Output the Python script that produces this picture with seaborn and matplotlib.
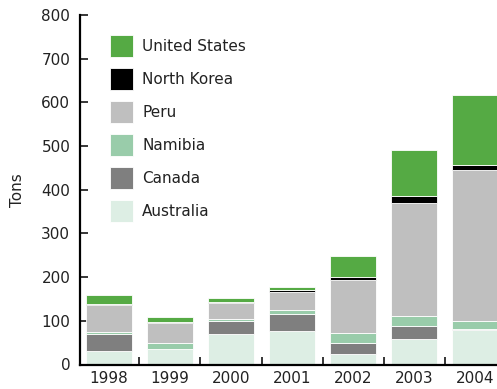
import matplotlib
matplotlib.use("Agg")
import matplotlib.pyplot as plt
import seaborn as sns
import numpy as np
import pandas as pd
from matplotlib.patches import Patch

years = ["1998", "1999", "2000", "2001", "2002", "2003", "2004"]
australia = [30, 35, 70, 77, 24, 58, 79]
canada = [39, 0, 29, 38, 26, 31, 3]
namibia = [6, 14, 5, 10, 23, 22, 18]
peru = [61, 47, 36, 40, 120, 258, 345]
north_korea = [2, 2, 4, 5, 7, 17, 12]
united_states = [22, 10, 9, 8, 49, 106, 159]

series = [
    ("Australia", australia, "#ddeee4"),
    ("Canada", canada, "#7f7f7f"),
    ("Namibia", namibia, "#99ccaa"),
    ("Peru", peru, "#bfbfbf"),
    ("North Korea", north_korea, "#000000"),
    ("United States", united_states, "#55aa44"),
]

sns.set_style("ticks")
plt.rcParams["font.family"] = ["DejaVu Sans"]
FS = 11

fig = plt.figure(figsize=(4.97, 3.89), dpi=100)
ax = fig.add_axes([80 / 497, 24.5 / 389, 1 - 80 / 497, (364.5 - 15) / 389])

bottom = np.zeros(len(years))
for name, vals, col in series:
    df = pd.DataFrame({"year": years, "tons": vals})
    sns.barplot(data=df, x="year", y="tons", color=col, bottom=bottom,
                width=0.75, errorbar=None, edgecolor="white", linewidth=0.6,
                saturation=1, ax=ax)
    bottom = bottom + np.array(vals)

ax.set_xlim(-0.475, 6.36)
ax.set_ylim(0, 800)
ax.set_yticks(range(0, 801, 100))
ax.set_xlabel("")
ax.set_ylabel("Tons", fontsize=FS, color="#222222", labelpad=12)

sns.despine(ax=ax, top=True, right=True)
for s in ("left", "bottom"):
    ax.spines[s].set_linewidth(1.6)
    ax.spines[s].set_color("black")

ax.tick_params(axis="y", direction="in", length=6, width=1.3, labelsize=FS,
               labelcolor="#222222", pad=7)
ax.tick_params(axis="x", which="major", length=0, labelsize=FS,
               labelcolor="#222222", pad=5)
ax.set_xticks(np.arange(0.5, 6, 1), minor=True)
ax.tick_params(axis="x", which="minor", direction="in", length=6, width=1.3)

handles = [Patch(facecolor=c, edgecolor="white", linewidth=0.6, label=n)
           for n, _, c in reversed(series)]
ax.legend(handles=handles, loc="upper left", bbox_to_anchor=(0.072, 0.943),
          frameon=False, fontsize=FS, handlelength=1.5, handleheight=1.835,
          labelspacing=0.72, handletextpad=0.6, borderpad=0, borderaxespad=0,
          labelcolor="#222222")

fig.savefig("out.png", dpi=100)
